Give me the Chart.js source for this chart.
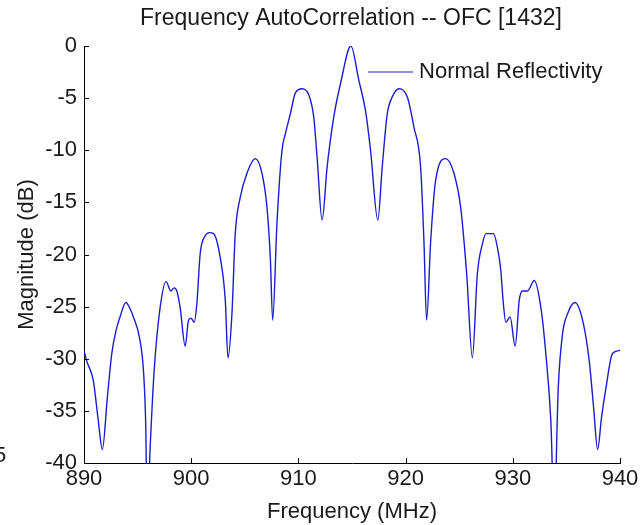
<!DOCTYPE html>
<html>
<head>
<meta charset="utf-8">
<title>Frequency AutoCorrelation</title>
<script src="https://cdn.jsdelivr.net/npm/chart.js@4.4.1/dist/chart.umd.min.js"></script>
<style>
	html, body { margin: 0; padding: 0; background: #fff; }
	#wrap { width: 643px; height: 525px; }
</style>
</head>
<body>
<div id="wrap"><canvas id="mycanvas" width="643" height="525"></canvas></div>
<script>
var chartTitle = "Frequency AutoCorrelation -- OFC [1432]";
var seriesName = "Normal Reflectivity";
var xTicks = [890, 900, 910, 920, 930, 940];
var yTicks = [-40, -35, -30, -25, -20, -15, -10, -5, 0];

// frequency (MHz) and magnitude (dB)
var freq = [
	890.0, 890.25, 890.87, 891.34, 891.71, 892.18, 892.59, 892.99, 893.36, 893.9,
	894.3, 894.61, 895.17, 895.55, 895.75, 895.9, 896.17, 896.54, 897.1, 897.66,
	898.1, 898.4, 898.66, 898.97, 899.44, 899.75, 899.97, 900.28, 900.53, 900.84,
	901.31, 901.7, 902.08, 902.71, 903.18, 903.43, 903.8, 904.11, 904.58, 905.2,
	905.98, 906.6, 907.07, 907.38, 907.6, 908.0, 908.47, 908.79, 909.25, 909.72,
	910.34, 910.97, 911.43, 911.74, 912.21, 912.68, 913.3, 913.93, 914.9,
	915.64, 916.26, 916.73, 917.41, 917.82, 918.29, 918.75, 919.38, 920.16, 920.78,
	921.4, 921.71, 921.96, 922.34, 922.8, 923.74, 924.51, 925.14, 925.7, 926.23,
	926.69, 927.16, 927.5, 928.2, 928.56, 928.88, 929.1, 929.35, 929.75, 930.22,
	930.6, 930.9, 931.37, 932.0, 932.62, 933.08, 933.55, 933.86, 934.24, 934.64,
	935.1, 935.8, 936.51, 937.13, 937.54, 937.91, 938.28, 938.69, 939.3, 940.0
];
var magnitude = [
	-29.2, -30.2, -32.1, -36.0, -38.7, -33.7, -29.5, -27.3, -26.0, -24.6,
	-25.2, -26.0, -27.95, -31.2, -36.0, -45.0, -38.5, -31.2, -25.1, -22.6,
	-23.5, -23.2, -23.5, -25.1, -28.8, -26.3, -26.1, -26.5, -24.7, -19.9,
	-18.2, -17.9, -18.0, -20.3, -24.4, -29.9, -25.7, -18.0, -14.5, -12.2,
	-10.8, -12.2, -15.5, -20.3, -26.3, -17.0, -10.0, -8.4, -6.5, -4.5,
	-4.1, -4.7, -6.8, -10.6, -16.7, -11.6, -6.8, -3.6, 0.0,
	-3.3, -6.2, -10.0, -16.7, -11.6, -6.5, -4.9, -4.1, -4.9, -7.8,
	-11.6, -18.7, -26.3, -18.7, -12.9, -10.8, -12.2, -15.5, -21.9, -29.9,
	-21.9, -19.0, -18.0, -18.0, -19.3, -21.5, -24.5, -26.5, -26.0, -28.8,
	-24.4, -23.5, -23.5, -22.5, -25.1, -29.5, -36.0, -45.0, -32.8, -27.6,
	-25.7, -24.6, -26.3, -30.2, -34.7, -38.7, -35.6, -32.8, -29.5, -29.2
];

var lineColor = '#1c1cd0';
var textColor = '#1a1a1a';
var fontFamily = "'Liberation Sans', Arial, Helvetica, sans-serif";

var points = [];
for (var i in freq) {
	points.push({x: freq[i], y: magnitude[i]});
}

// matlab style extras: inward ticks, title, legend inside the axes
var matlabBits = {
	id: 'matlabBits',
	afterDraw: function(chart) {
		var ctx = chart.ctx;
		var area = chart.chartArea;
		var xs = chart.scales.x;
		var ys = chart.scales.y;
		ctx.save();
		ctx.strokeStyle = '#000';
		ctx.lineWidth = 1;
		ctx.beginPath();
		xTicks.forEach(function(v) {
			var px = Math.round(xs.getPixelForValue(v)) + 0.5;
			ctx.moveTo(px, area.bottom);
			ctx.lineTo(px, area.bottom - 5);
		});
		yTicks.forEach(function(v) {
			var py = Math.round(ys.getPixelForValue(v)) + 0.5;
			ctx.moveTo(area.left, py);
			ctx.lineTo(area.left + 5, py);
		});
		ctx.stroke();

		ctx.fillStyle = textColor;
		ctx.font = '23px ' + fontFamily;
		ctx.textAlign = 'center';
		ctx.textBaseline = 'alphabetic';
		ctx.fillText(chartTitle, (area.left + area.right) / 2 - 1, 25);

		// legend
		ctx.font = '22px ' + fontFamily;
		var lx = xs.getPixelForValue(916.5);
		var ly = 72;
		ctx.strokeStyle = lineColor;
		ctx.lineWidth = 1.2;
		ctx.beginPath();
		ctx.moveTo(lx, ly);
		ctx.lineTo(lx + 45, ly);
		ctx.stroke();
		ctx.textAlign = 'left';
		ctx.textBaseline = 'middle';
		ctx.fillText(seriesName, lx + 51, ly);

		// clipped label of the neighbouring plot
		ctx.fillText('5', -6, 456);
		ctx.restore();
	}
};

var ctx = document.getElementById('mycanvas');

var lineGraph = new Chart(ctx, {
	type: 'line',
	data: {
		datasets: [
			{
				label: seriesName,
				data: points,
				borderColor: lineColor,
				borderWidth: 1.4,
				pointRadius: 0,
				fill: false,
				cubicInterpolationMode: 'monotone'
			}
		]
	},
	options: {
		responsive: false,
		animation: false,
		events: [],
		layout: { padding: { top: 46, right: 23, left: 0, bottom: 0 } },
		plugins: {
			legend: { display: false },
			title: { display: false },
			tooltip: { enabled: false }
		},
		scales: {
			x: {
				type: 'linear',
				min: 890,
				max: 940,
				afterBuildTicks: function(scale) {
					scale.ticks = xTicks.map(function(v) { return {value: v}; });
				},
				afterFit: function(scale) { scale.height = 62; },
				grid: { display: false, drawTicks: false },
				border: { display: true, color: '#000', width: 1 },
				ticks: {
					color: textColor,
					padding: 3,
					maxRotation: 0,
					font: { family: fontFamily, size: 22 }
				},
				title: {
					display: true,
					text: 'Frequency (MHz)',
					color: textColor,
					padding: { top: 7, bottom: 0 },
					font: { family: fontFamily, size: 22 }
				}
			},
			y: {
				type: 'linear',
				min: -40,
				max: 0,
				afterBuildTicks: function(scale) {
					scale.ticks = yTicks.map(function(v) { return {value: v}; });
				},
				afterFit: function(scale) { scale.width = 84; },
				grid: { display: false, drawTicks: false },
				border: { display: true, color: '#000', width: 1 },
				ticks: {
					color: textColor,
					padding: 7,
					font: { family: fontFamily, size: 22 }
				},
				title: {
					display: true,
					text: 'Magnitude (dB)',
					color: textColor,
					padding: { top: 14, bottom: 0 },
					font: { family: fontFamily, size: 22 }
				}
			}
		}
	},
	plugins: [matlabBits]
});
</script>
</body>
</html>
